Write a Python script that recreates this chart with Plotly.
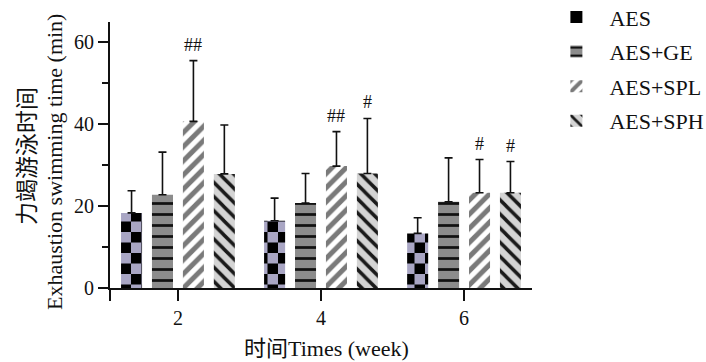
import plotly.graph_objects as go

weeks = [2, 4, 6]
groups = ["AES", "AES+GE", "AES+SPL", "AES+SPH"]
means = {
    "AES": [18.3, 16.4, 13.3],
    "AES+GE": [22.7, 20.7, 21.0],
    "AES+SPL": [40.6, 29.7, 23.2],
    "AES+SPH": [27.8, 27.9, 23.2],
}
upper = {
    "AES": [23.7, 21.9, 17.1],
    "AES+GE": [33.1, 27.9, 31.7],
    "AES+SPL": [55.4, 38.1, 31.3],
    "AES+SPH": [39.7, 41.3, 30.8],
}
marks = {
    "AES+SPL": ["##", "##", "#"],
    "AES+SPH": ["", "#", "#"],
}
y_ticks = [0, 20, 40, 60]
x_tick_labels = ["2", "4", "6"]

FONT = "'Liberation Serif', 'Times New Roman', 'Noto Sans CJK SC', serif"

patterns = {
    "AES": dict(path="M0,0H10.5V10.5H0Z M10.5,10.5H21V21H10.5Z", size=21,
                 fgcolor="#000000", bgcolor="#a9a6c4", fillmode="replace"),
    "AES+GE": dict(shape="-", size=11, solidity=0.25, fgcolor="#111111",
                    bgcolor="#8c8c8c", fillmode="replace"),
    "AES+SPL": dict(shape="/", size=10, solidity=0.5, fgcolor="#7a7a7a",
                     bgcolor="#ffffff", fillmode="replace"),
    "AES+SPH": dict(shape="\\", size=10, solidity=0.35, fgcolor="#1a1a1a",
                     bgcolor="#d4d4d4", fillmode="replace"),
}

bargap = 0.135
bargroupgap = 0.32

fig = go.Figure()
for i, g in enumerate(groups):
    err = [u - m for u, m in zip(upper[g], means[g])]
    fig.add_trace(go.Bar(
        x=weeks, y=means[g], name=g, legendgroup=g,
        marker=dict(pattern=patterns[g], line=dict(width=0)),
        error_y=dict(type="data", array=err, arrayminus=[0] * len(err),
                     symmetric=False, color="#111111", thickness=1.6, width=4),
    ))

slot = (1 - bargap) * (weeks[1] - weeks[0]) / len(groups)
annotations = []
for i, g in enumerate(groups):
    if g not in marks:
        continue
    off = (i - (len(groups) - 1) / 2) * slot
    for w, u, t in zip(weeks, upper[g], marks[g]):
        if t:
            annotations.append(dict(x=w + off, y=u, text=t, showarrow=False,
                                    yanchor="middle", yshift=16,
                                    font=dict(family=FONT, size=18, color="#111")))

annotations += [
    dict(xref="paper", yref="paper", x=0, y=0.474, xshift=-55, text="Exhaustion swimming time (min)",
         textangle=-90, showarrow=False, xanchor="center", yanchor="middle",
         font=dict(family=FONT, size=22, color="#111")),
    dict(xref="paper", yref="paper", x=0, y=0.496, xshift=-83, text="力竭游泳时间",
         textangle=-90, showarrow=False, xanchor="center", yanchor="middle",
         font=dict(family=FONT, size=23, color="#111")),
    dict(xref="paper", yref="paper", x=0.513, y=0, yshift=-60, text="时间Times (week)",
         showarrow=False, xanchor="center", yanchor="middle",
         font=dict(family=FONT, size=22, color="#111")),
]

fig.update_layout(
    width=706, height=362,
    margin=dict(l=110, r=174, t=22, b=74, autoexpand=False),
    plot_bgcolor="white", paper_bgcolor="white",
    barmode="group", bargap=bargap, bargroupgap=bargroupgap,
    font=dict(family=FONT, size=20, color="#111"),
    showlegend=True,
    legend=dict(x=1.027, y=1.097, xanchor="left", yanchor="top",
                font=dict(family=FONT, size=22, color="#111"),
                tracegroupgap=3, itemwidth=56, bgcolor="rgba(0,0,0,0)"),
    annotations=annotations,
)
fig.update_xaxes(
    range=[1.05, 6.95], tickmode="array",
    tickvals=[1.05] + weeks, ticktext=[""] + x_tick_labels,
    showline=True, linecolor="#111", linewidth=2,
    ticks="outside", ticklen=11, tickwidth=2, tickcolor="#111",
    showgrid=False, zeroline=False, tickfont=dict(family=FONT, size=20),
)
fig.update_yaxes(
    range=[0, 64.8], tickmode="array", tickvals=y_ticks,
    showline=True, linecolor="#111", linewidth=2,
    ticks="outside", ticklen=10, tickwidth=2, tickcolor="#111",
    minor=dict(tickmode="array", tickvals=[10, 30, 50], ticks="outside",
               ticklen=6, tickwidth=2, tickcolor="#111", showgrid=False),
    showgrid=False, zeroline=False, tickfont=dict(family=FONT, size=20),
)

fig.write_html("out.html", config={"displayModeBar": False},
               post_script="document.body.style.margin='0';document.body.style.overflow='hidden';")
